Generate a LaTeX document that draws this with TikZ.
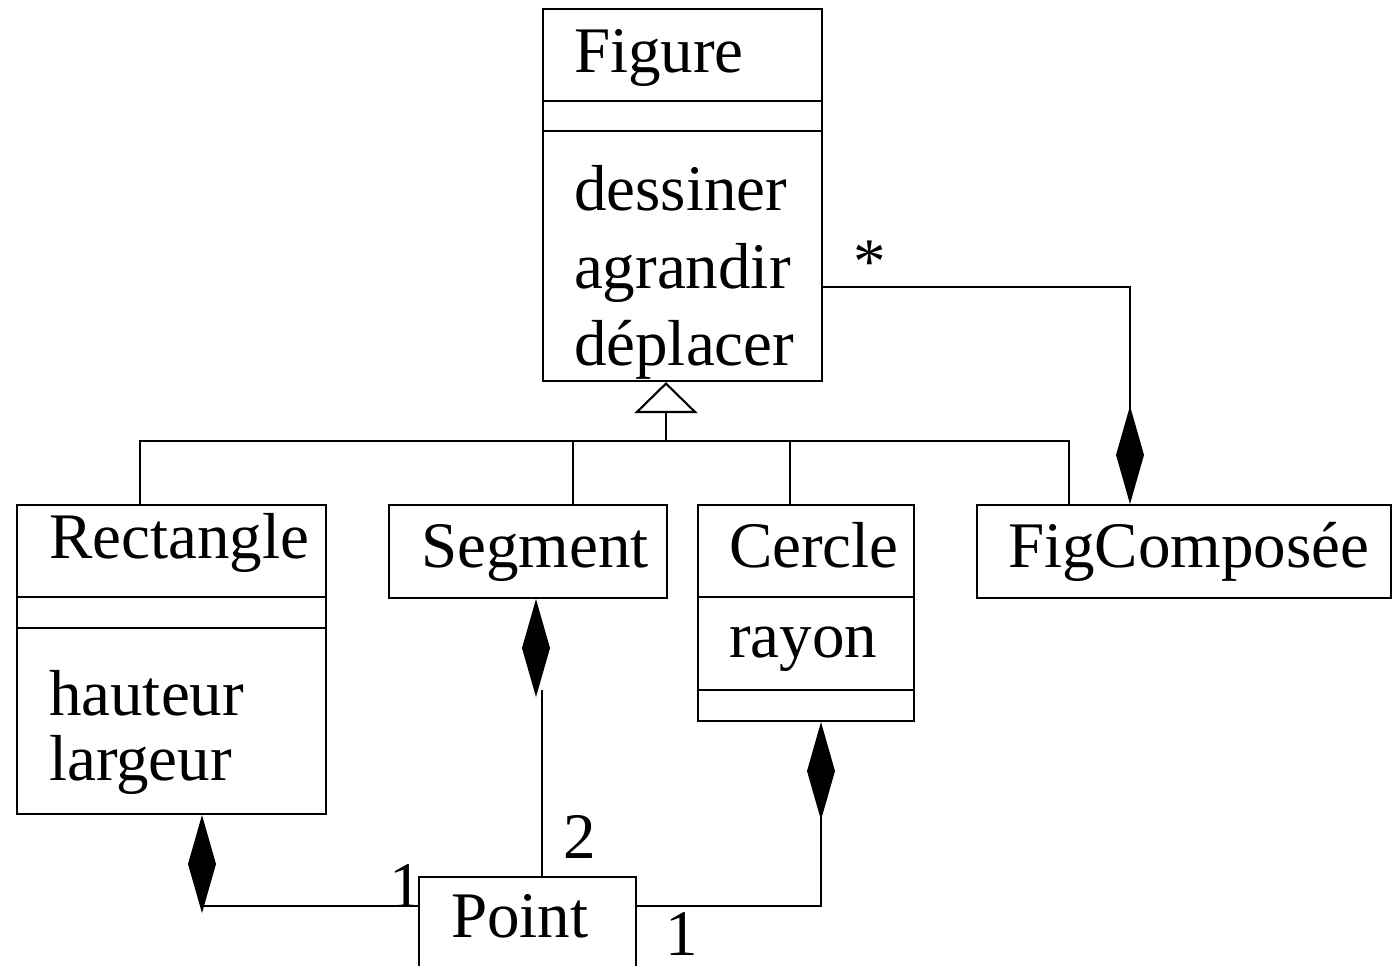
\documentclass[tikz,border=0pt]{standalone}
\usepackage{fontspec}
\setmainfont{Liberation Serif}
\usetikzlibrary{arrows.meta}
\begin{document}
\begin{tikzpicture}[x=0.1mm, y=-0.1mm, line width=0.6pt,
  font=\fontsize{18.5pt}{22pt}\selectfont,
  cls/.style={draw, inner sep=0pt, anchor=north west},
  txt/.style={anchor=base west, inner sep=0pt},
  comp/.style={-{Diamond[length=9.8mm, width=2.8mm]}},
  ]
  \useasboundingbox (0,0) rectangle (1392,966);

  %%% class boxes %%%
  \node[cls, minimum width=27.9mm, minimum height=37.2mm] (fig)  at (542,8)   {};
  \node[cls, minimum width=30.9mm, minimum height=30.9mm] (rect) at (16,504)  {};
  \node[cls, minimum width=27.8mm, minimum height=9.3mm]  (seg)  at (388,504) {};
  \node[cls, minimum width=21.6mm, minimum height=21.6mm] (cer)  at (697,504) {};
  \node[cls, minimum width=41.4mm, minimum height=9.3mm]  (fc)   at (976,504) {};
  \node[cls, minimum width=21.7mm, minimum height=11.4mm] (pt)   at (418,876) {};

  %%% compartment separators %%%
  \foreach \sy in {101,131} \draw (fig.west |- 0,\sy) -- (fig.east |- 0,\sy);
  \foreach \sy in {597,628} \draw (rect.west |- 0,\sy) -- (rect.east |- 0,\sy);
  \foreach \sy in {597,690} \draw (cer.west |- 0,\sy) -- (cer.east |- 0,\sy);

  %%% class names and members %%%
  \node[txt] (figname)  at (573,72)   {Figure};
  \node[txt] (op1)      at (573,210)  {dessiner};
  \node[txt] (op2)      at (573,288)  {agrandir};
  \node[txt] (op3)      at (573,365)  {déplacer};
  \node[txt] (rectname) at (48,558)   {Rectangle};
  \node[txt] (attr1)    at (48,715)   {hauteur};
  \node[txt] (attr2)    at (48,780)   {largeur};
  \node[txt] (segname)  at (420,567)  {Segment};
  \node[txt] (cername)  at (728,567)  {Cercle};
  \node[txt] (attr3)    at (728,657)  {rayon};
  \node[txt] (fcname)   at (1007,567) {FigComposée};
  \node[txt] (ptname)   at (450,937)  {Point};

  %%% generalisation %%%
  \coordinate (hub) at (666,441);
  \draw[-{Triangle[open, length=3.1mm, width=6.3mm]}] (hub) -- (hub |- fig.south);
  \draw (rect.north -| 140,0) |- (hub) -| (fc.north -| 1069,0);
  \draw (seg.north -| 573,0) -- (573,441);
  \draw (cer.north -| 790,0) -- (790,441);

  %%% compositions %%%
  \draw[comp] (fig.east |- 0,287) -| (fc.north -| 1130,0);
  \draw[comp] (pt.west |- 0,906) -| (rect.south -| 202,0);
  \draw[comp] (536,690) -- (seg.south -| 536,0);
  \draw (542,690) -- (pt.north -| 542,0);
  \draw[comp] (pt.east |- 0,906) -| (cer.south -| 821,0);

  %%% multiplicities %%%
  \node[anchor=center, inner sep=0pt] (many) at (870,262) {*};
  \node[txt] (m1) at (388,907) {1};
  \node[txt] (m2) at (562,858) {2};
  \node[txt] (m3) at (664,955) {1};
\end{tikzpicture}
\end{document}
